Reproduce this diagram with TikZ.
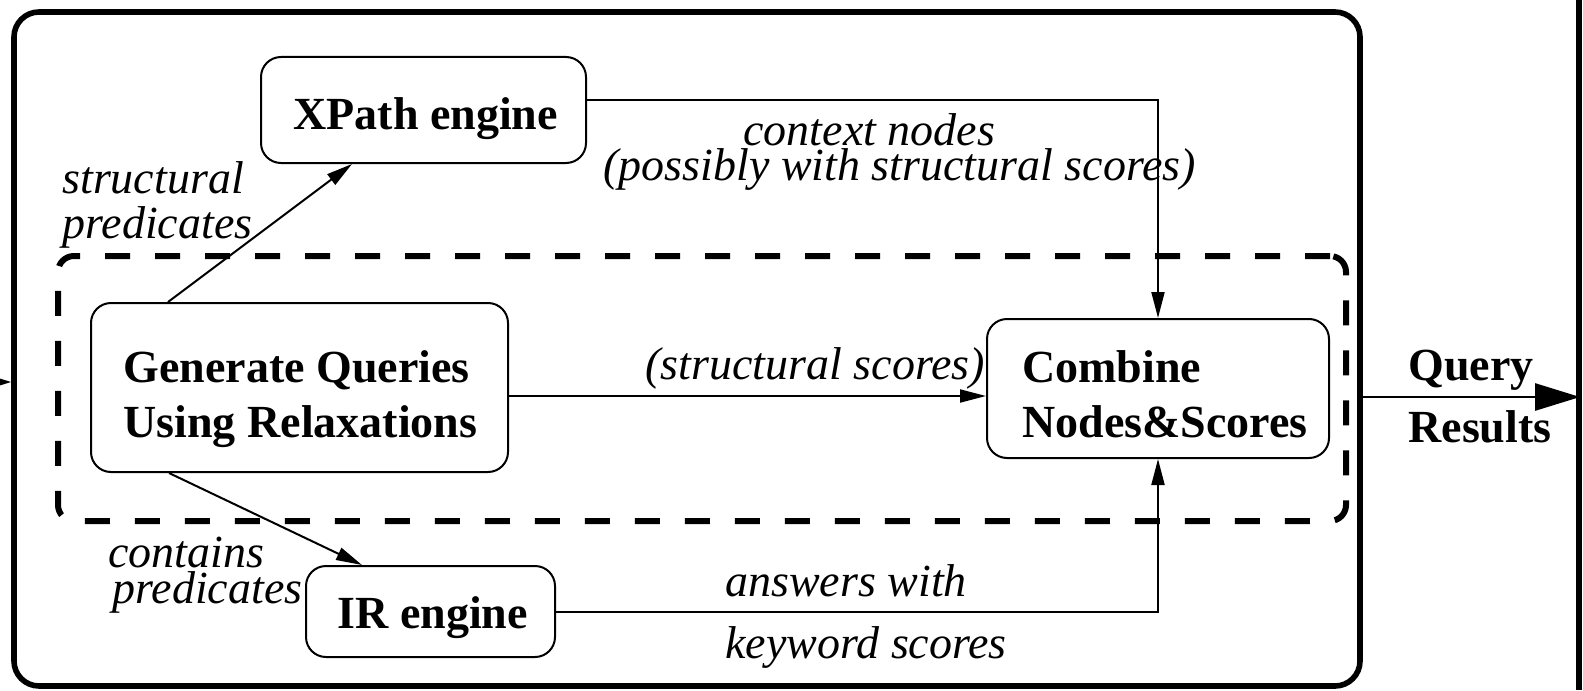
\documentclass[tikz,border=0pt]{standalone}
\usepackage{fontspec}
\setmainfont{Liberation Serif}
\usetikzlibrary{arrows.meta}
\begin{document}
\begin{tikzpicture}[x=0.5pt,y=-0.5pt,
  box/.style={draw, line width=1pt, rounded corners=10pt, inner sep=0pt},
  conn/.style={line width=1pt, -{Triangle[length=13pt,width=6.5pt]}},
  bigarrow/.style={line width=1.4pt, -{Triangle[length=22.5pt,width=13.5pt]}},
  txt/.style={anchor=base west, inner sep=0pt, font=\fontsize{23pt}{27pt}\selectfont},
  bold/.style={txt, font=\fontsize{23pt}{27pt}\selectfont\bfseries},
  lbl/.style={txt, font=\fontsize{23pt}{27pt}\selectfont\itshape}]

\useasboundingbox (0,0) rectangle (1583,690);

% enclosing system frame and the edge of the neighbouring one
\node[draw, line width=2.8pt, rounded corners=12.5pt, inner sep=0pt,
      minimum width=673pt, minimum height=337pt] (sys) at (687,349) {};
\draw[line width=2.8pt] (1579,0) -- (1579,690);

% dashed group around query generation and combination
\node[draw, line width=3pt, dash pattern=on 12.5pt off 12.5pt, rounded corners=8pt,
      inner sep=0pt, minimum width=644pt, minimum height=132.5pt] (grp) at (702,388.5) {};

% components
\node[box, minimum width=162.5pt, minimum height=53pt] (xpath) at (423.5,110) {};
\node[box, minimum width=208.5pt, minimum height=84.5pt] (gen) at (299.5,387.5) {};
\node[box, minimum width=171pt, minimum height=69.5pt] (comb) at (1158,388.5) {};
\node[box, minimum width=124.5pt, minimum height=45.5pt] (ir) at (430.5,611.5) {};

% component titles
\node[bold] (xpathT) at (293,129) {XPath engine};
\node[bold] (genT1) at (123,382) {Generate Queries};
\node[bold] (genT2) at (123,437) {Using Relaxations};
\node[bold] (combT1) at (1022,382) {Combine};
\node[bold] (combT2) at (1022,437) {Nodes\&Scores};
\node[bold] (irT) at (337,628) {IR engine};
\node[bold] (resT1) at (1408,380) {Query};
\node[bold] (resT2) at (1408,442) {Results};

% edge labels
\node[lbl] (sp1) at (62,193) {structural};
\node[lbl] (sp2) at (62,238) {predicates};
\node[lbl] (cn1) at (743,145) {context nodes};
\node[lbl] (cn2) at (603,180) {(possibly with structural scores)};
\node[lbl] (ss) at (645,379) {(structural scores)};
\node[lbl] (cp1) at (108,567) {contains};
\node[lbl] (cp2) at (112,603) {predicates};
\node[lbl] (aw1) at (725,596) {answers with};
\node[lbl] (aw2) at (725,658) {keyword scores};

% connectors
\draw[conn] ([xshift=39pt]gen.north west) -- ([xshift=46pt]xpath.south west);
\draw[conn] ([xshift=39.5pt]gen.south west) -- ([xshift=28.5pt]ir.north west);
\coordinate (genout) at ([yshift=-4.25pt]gen.east);
\draw[conn] (genout) -- (genout -| comb.west);
\coordinate (xpout) at ([yshift=5pt]xpath.east);
\draw[conn] (xpout) -| (comb.north);
\draw[conn] (ir.east) -| (comb.south);

% system input and output
\coordinate (res) at (1580,397);
\draw[bigarrow] (sys.east |- res) -- (res);
\coordinate (src) at (-60,382);
\draw[bigarrow] (src) -- (sys.west |- src);
\end{tikzpicture}
\end{document}
